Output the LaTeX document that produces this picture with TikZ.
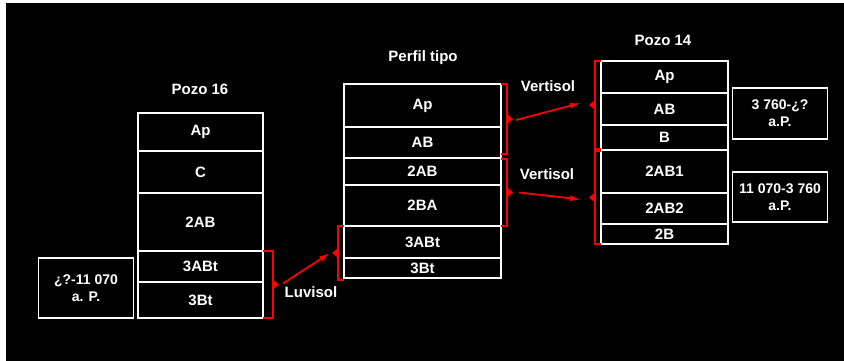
\documentclass[tikz,border=0pt]{standalone}
\usepackage{fontspec}
\setmainfont{Liberation Sans}
\usetikzlibrary{arrows.meta,calc}
\begin{document}
\begin{tikzpicture}[x=1pt,y=-1pt,
  every node/.style={text=white,font=\fontsize{15}{17}\selectfont\bfseries},
  layer/.style={draw=white,line width=1.6pt,inner sep=0pt,outer sep=0pt,
    minimum width=#1},
  datebox/.style={draw=white,line width=1.6pt,inner sep=0pt,align=center,
    minimum width=95pt,font=\fontsize{14}{17}\selectfont\bfseries},
  bracket/.style={draw=red,line width=1.6pt},
  marker/.style={fill=red},
  link/.style={draw=red,line width=1.8pt,-{Latex[length=11pt,width=6pt]}},
  title/.style={font=\fontsize{15}{17}\selectfont\bfseries}]
\useasboundingbox (0,0) rectangle (844,361);
\fill[white] (0,0) rectangle (844,361);
\fill[black] (6,3) rectangle (844,361);

% ---- Pozo 16 ----
\node[title] (t16) at (200,89) {Pozo 16};
\begin{scope}[every node/.append style={layer=125pt}]
\node[minimum height=38pt] (a1) at (200.5,132) {Ap};
\node[minimum height=42pt] (a2) at (200.5,172) {C};
\node[minimum height=58pt] (a3) at (200.5,222) {2AB};
\node[minimum height=31pt] (a4) at (200.5,266.5) {3ABt};
\node[minimum height=36pt] (a5) at (200.5,300) {3Bt};
\end{scope}
\node[datebox,minimum height=60pt] (d16) at (86,288) {¿?-11 070\\a. P.};

% ---- Perfil tipo ----
\node[title] (tp) at (423,58) {Perfil tipo};
\begin{scope}[every node/.append style={layer=157pt}]
\node[minimum height=43pt] (b1) at (422.5,105.5) {Ap};
\node[minimum height=31pt] (b2) at (422.5,142.5) {AB};
\node[minimum height=27pt] (b3) at (422.5,171.5) {2AB};
\node[minimum height=41pt] (b4) at (422.5,205.5) {2BA};
\node[minimum height=32pt] (b5) at (422.5,242) {3ABt};
\node[minimum height=20pt] (b6) at (422.5,268) {3Bt};
\end{scope}

% ---- Pozo 14 ----
\node[title] (t14) at (663,40) {Pozo 14};
\begin{scope}[every node/.append style={layer=127pt}]
\node[minimum height=32pt] (c1) at (664.5,77) {Ap};
\node[minimum height=32pt] (c2) at (664.5,109) {AB};
\node[minimum height=25pt] (c3) at (664.5,137.5) {B};
\node[minimum height=43pt] (c4) at (664.5,171.5) {2AB1};
\node[minimum height=31pt] (c5) at (664.5,208.5) {2AB2};
\node[minimum height=20pt] (c6) at (664.5,234) {2B};
\end{scope}
\node[datebox,minimum height=51pt] (d14a) at (780,113.5) {3 760-¿?\\a.P.};
\node[datebox,minimum height=50pt] (d14b) at (780,197) {11 070-3 760\\a.P.};

% ---- brackets with their markers ----
% end points of each bracket
\coordinate (u1) at (a4.north east);              \coordinate (e1) at (a5.south east);
\coordinate (u2) at (b1.north east);              \coordinate (e2) at ($(b2.south east)+(0,-4)$);
\coordinate (u3) at ($(b3.north east)+(0,1)$);    \coordinate (e3) at (b4.south east);
\coordinate (u4) at (b5.north west);              \coordinate (e4) at ($(b6.south west)+(0,2)$);
\coordinate (u5) at (c1.north west);              \coordinate (e5) at ($(c3.south west)+(0,-1)$);
\coordinate (u6) at ($(c4.north west)+(0,1)$);    \coordinate (e6) at (c6.south west);

% right-facing brackets
\foreach \i/\w in {1/10,2/6,3/6}{
  \draw[bracket] (u\i) -- ++(\w,0) coordinate (s\i) |- (e\i);
  \coordinate (m\i) at ($(s\i)!0.5!(s\i|-e\i)$);
  \fill[marker] ($(m\i)+(0,-5)$) -- ++(6,5) coordinate (k\i) -- ++(-6,5) -- cycle;
}
% left-facing brackets
\foreach \i in {4,5,6}{
  \draw[bracket] (u\i) -- ++(-6,0) coordinate (s\i) |- (e\i);
  \coordinate (m\i) at ($(s\i)!0.5!(s\i|-e\i)$);
  \fill[marker] ($(m\i)+(0,-5)$) -- ++(-6,5) coordinate (k\i) -- ++(6,5) -- cycle;
}

% ---- links between the profiles ----
\draw[link] ($(k1)+(4,-1)$) -- ($(k4)+(-2,0)$);
\draw[link] ($(k2)+(3,1)$) -- ($(k5)+(-8,-2)$);
\draw[link] ($(k3)+(6,0)$) -- ($(k6)+(-8,2)$);

\node (l1) at (311,292) {Luvisol};
\node (l2) at (548,86) {Vertisol};
\node (l3) at (547,174) {Vertisol};
\end{tikzpicture}
\end{document}
